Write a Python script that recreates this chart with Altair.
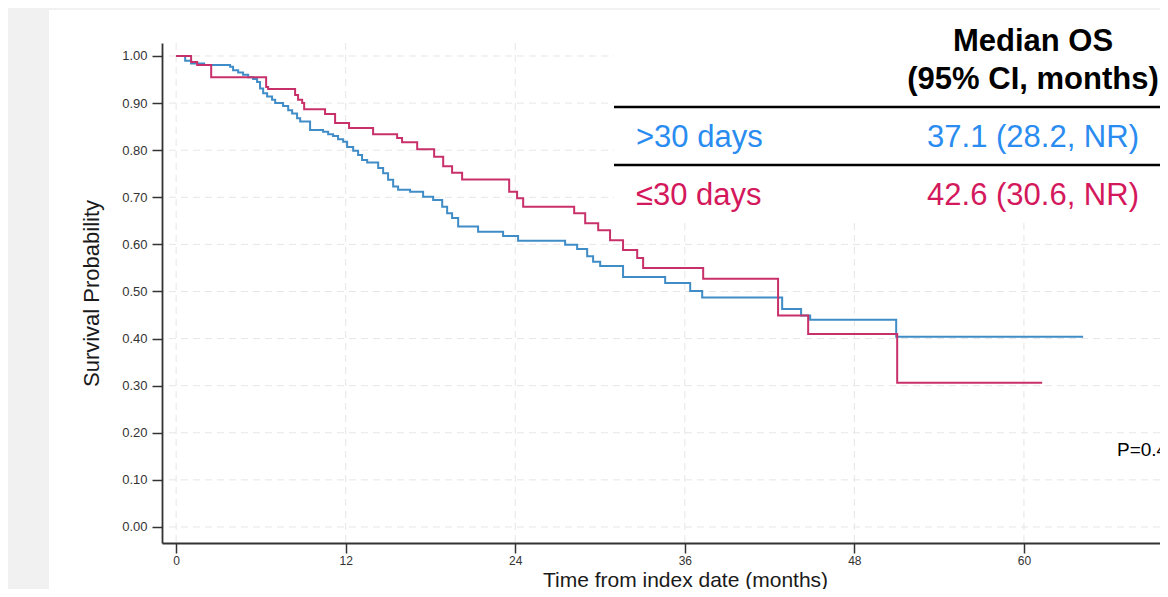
import altair as alt
import pandas as pd

# ---------------- data ----------------
groups = [">30 days", "≤30 days"]

blue_t = [0, 0.64, 1.06, 1.98, 3.82, 4.03, 4.39, 4.74, 5.10, 5.45, 5.73, 5.94, 6.16, 6.44,
          6.79, 7.01, 7.57, 7.93, 8.21, 8.56, 8.78, 9.48, 10.40, 10.76, 11.11, 11.46, 11.82,
          12.10, 12.53, 12.88, 13.16, 13.52, 14.30, 14.65, 15.00, 15.36, 15.71, 16.56, 17.48,
          18.19, 18.83, 19.18, 19.53, 19.96, 21.37, 23.14, 24.20, 27.53, 28.38, 29.09, 29.51,
          30.01, 31.63, 34.61, 36.38, 37.23, 42.89, 44.23, 44.87, 50.96, 64.19]
blue_s = [1.0, 0.99, 0.984, 0.981, 0.977, 0.970, 0.965, 0.960, 0.955, 0.951, 0.945, 0.931,
          0.921, 0.914, 0.907, 0.900, 0.894, 0.885, 0.878, 0.868, 0.861, 0.843, 0.839, 0.834,
          0.830, 0.823, 0.818, 0.807, 0.799, 0.790, 0.779, 0.774, 0.762, 0.751, 0.737, 0.723,
          0.716, 0.712, 0.701, 0.694, 0.680, 0.666, 0.656, 0.638, 0.627, 0.618, 0.608, 0.599,
          0.590, 0.575, 0.563, 0.554, 0.531, 0.518, 0.501, 0.487, 0.463, 0.449, 0.440, 0.404,
          0.404]

red_t = [0, 1.06, 1.49, 2.48, 6.37, 6.51, 8.42, 8.63, 8.92, 9.06, 10.54, 11.25, 12.24, 13.94,
         15.64, 15.99, 17.06, 18.26, 18.90, 19.53, 20.24, 23.57, 24.13, 24.56, 28.17, 28.95,
         29.87, 30.71, 31.63, 32.63, 33.05, 37.30, 42.60, 44.73, 51.03, 61.29]
red_s = [1.0, 0.987, 0.981, 0.955, 0.934, 0.930, 0.917, 0.907, 0.900, 0.887, 0.877, 0.858,
         0.847, 0.834, 0.826, 0.817, 0.802, 0.786, 0.766, 0.752, 0.738, 0.712, 0.698, 0.680,
         0.666, 0.645, 0.630, 0.609, 0.588, 0.571, 0.550, 0.527, 0.449, 0.410, 0.306, 0.306]

x_ticks = [0, 12, 24, 36, 48, 60]
y_ticks = [0.0, 0.1, 0.2, 0.3, 0.4, 0.5, 0.6, 0.7, 0.8, 0.9, 1.0]

table_header = ["Median OS", "(95% CI, months)"]
table_rows = [">30 days", "≤30 days"]
table_values = ["37.1 (28.2, NR)", "42.6 (30.6, NR)"]
p_text = "P=0.44"

# ---------------- styling ----------------
FONT = "Liberation Sans"
LINE_COLORS = ["#3f8cc6", "#c8306a"]
TEXT_COLORS = ["#2a8cf0", "#d4185c"]
W, H = 998, 500

df = pd.concat([
    pd.DataFrame({"t": blue_t, "s": blue_s, "group": groups[0]}),
    pd.DataFrame({"t": red_t, "s": red_s, "group": groups[1]}),
])

xscale = alt.Scale(domain=[-1, 69.63], nice=False, zero=False)
yscale = alt.Scale(domain=[-0.034, 1.0276], nice=False, zero=False)

xaxis = alt.Axis(values=x_ticks, grid=False, zindex=1, tickSize=10, tickWidth=1.5,
                 tickColor="#333", domainColor="#333", domainWidth=1.8,
                 labelFontSize=12, labelColor="#333", labelFont=FONT, labelPadding=2,
                 title="Time from index date (months)", titleFont=FONT, titleFontSize=21,
                 titleFontWeight="normal", titleColor="#1a1a1a", titleX=523, titleY=43,
                 titleBaseline="alphabetic", titleAlign="center")
yaxis = alt.Axis(values=y_ticks, format=".2f", grid=False, zindex=1, tickSize=10,
                 tickWidth=1.5, tickColor="#333", domainColor="#333", domainWidth=1.8,
                 labelFontSize=13, labelColor="#333", labelFont=FONT, labelPadding=5,
                 title="Survival Probability", titleFont=FONT, titleFontSize=22,
                 titleFontWeight="normal", titleColor="#1a1a1a", titlePadding=18)

one = pd.DataFrame({"k": [0]})

# white panel behind the figure
panel = alt.Chart(one).mark_rect(color="white").encode(
    x=alt.value(-113), x2=alt.value(W + 20), y=alt.value(-33), y2=alt.value(H + 60))

# dashed grid (carries the axes so that they merge cleanly)
vgrid = alt.Chart(pd.DataFrame({"t": x_ticks})).mark_rule(
    color="#e6e6e6", strokeWidth=1, strokeDash=[7, 5]).encode(
    x=alt.X("t:Q", scale=xscale, axis=xaxis))
hgrid = alt.Chart(pd.DataFrame({"s": y_ticks})).mark_rule(
    color="#e6e6e6", strokeWidth=1, strokeDash=[7, 5]).encode(
    y=alt.Y("s:Q", scale=yscale, axis=yaxis))

# white box behind the table
table_bg = alt.Chart(one).mark_rect(color="white").encode(
    x=alt.value(452), x2=alt.value(W + 20), y=alt.value(-33), y2=alt.value(179))

lines = alt.Chart(df).mark_line(interpolate="step-after", strokeWidth=2).encode(
    x=alt.X("t:Q", scale=xscale, axis=xaxis),
    y=alt.Y("s:Q", scale=yscale, axis=yaxis),
    color=alt.Color("group:N", scale=alt.Scale(domain=groups, range=LINE_COLORS), legend=None),
    order=alt.Order("t:Q"),
)


def txt(s, x, y, color="black", size=31, weight="normal", align="center", font=FONT):
    return alt.Chart(one).mark_text(text=s, color=color, fontSize=size, fontWeight=weight,
                                    align=align, baseline="middle", font=font).encode(
        x=alt.value(x), y=alt.value(y))


def hrule(y):
    return alt.Chart(one).mark_rule(color="black", strokeWidth=2.5).encode(
        x=alt.value(452), x2=alt.value(W + 20), y=alt.value(y))


layers = [panel, vgrid, hgrid, table_bg, lines,
          txt(table_header[0], 871, -1, weight="bold"),
          txt(table_header[1], 871, 37, weight="bold"),
          hrule(64),
          txt(table_rows[0], 474, 95, color=TEXT_COLORS[0], align="left"),
          txt(table_values[0], 871, 95, color=TEXT_COLORS[0]),
          hrule(122),
          txt(table_rows[1], 474, 153, color=TEXT_COLORS[1], align="left"),
          txt(table_values[1], 871, 153, color=TEXT_COLORS[1]),
          txt(p_text, 955, 407, size=19, align="left"),
          ]

chart = alt.layer(*layers).properties(
    width=W, height=H,
    autosize=alt.AutoSizeParams(type="none"),
    padding={"left": 154, "top": 35, "right": 0, "bottom": 46},
    background="#f1f1f1",
).configure_view(stroke=None)

chart.save("out.html", embed_options={"renderer": "svg", "actions": False})
